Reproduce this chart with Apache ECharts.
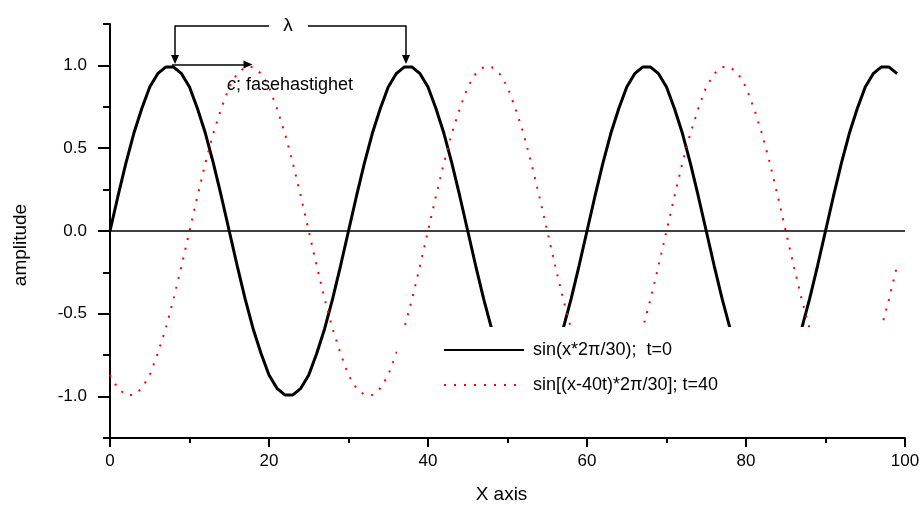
<!DOCTYPE html>
<html>
<head>
<meta charset="utf-8">
<script src="https://cdn.jsdelivr.net/npm/echarts@6/dist/echarts.min.js"></script>
<style>
  html, body { margin: 0; padding: 0; background: #fff; }
  #chart { width: 923px; height: 509px; }
</style>
</head>
<body>
<div id="chart"></div>
<script>
// sample positions along x (one point per unit)
const xs = [
  0, 1, 2, 3, 4, 5, 6, 7, 8, 9, 10, 11, 12, 13, 14, 15, 16, 17, 18, 19,
  20, 21, 22, 23, 24, 25, 26, 27, 28, 29, 30, 31, 32, 33, 34, 35, 36, 37, 38, 39,
  40, 41, 42, 43, 44, 45, 46, 47, 48, 49, 50, 51, 52, 53, 54, 55, 56, 57, 58, 59,
  60, 61, 62, 63, 64, 65, 66, 67, 68, 69, 70, 71, 72, 73, 74, 75, 76, 77, 78, 79,
  80, 81, 82, 83, 84, 85, 86, 87, 88, 89, 90, 91, 92, 93, 94, 95, 96, 97, 98, 99
];

// sin(x*2π/30); t=0  (solid black)
const waveT0 = [
  0, 0.21, 0.41, 0.59, 0.74, 0.87, 0.95, 0.99, 0.99, 0.95, 0.87, 0.74, 0.59, 0.41, 0.21,
  0, -0.21, -0.41, -0.59, -0.74, -0.87, -0.95, -0.99, -0.99, -0.95, -0.87, -0.74, -0.59, -0.41, -0.21,
  0, 0.21, 0.41, 0.59, 0.74, 0.87, 0.95, 0.99, 0.99, 0.95, 0.87, 0.74, 0.59, 0.41, 0.21,
  0, -0.21, -0.41, -0.59, -0.74, -0.87, -0.95, -0.99, -0.99, -0.95, -0.87, -0.74, -0.59, -0.41, -0.21,
  0, 0.21, 0.41, 0.59, 0.74, 0.87, 0.95, 0.99, 0.99, 0.95, 0.87, 0.74, 0.59, 0.41, 0.21,
  0, -0.21, -0.41, -0.59, -0.74, -0.87, -0.95, -0.99, -0.99, -0.95, -0.87, -0.74, -0.59, -0.41, -0.21,
  0, 0.21, 0.41, 0.59, 0.74, 0.87, 0.95, 0.99, 0.99, 0.95
];

// sin[(x-40t)*2π/30]; t=40  (red dotted)
const waveT40 = [
  -0.87, -0.95, -0.99, -0.99, -0.95, -0.87, -0.74, -0.59, -0.41, -0.21,
  0, 0.21, 0.41, 0.59, 0.74, 0.87, 0.95, 0.99, 0.99, 0.95, 0.87, 0.74, 0.59, 0.41, 0.21,
  0, -0.21, -0.41, -0.59, -0.74, -0.87, -0.95, -0.99, -0.99, -0.95, -0.87, -0.74, -0.59, -0.41, -0.21,
  0, 0.21, 0.41, 0.59, 0.74, 0.87, 0.95, 0.99, 0.99, 0.95, 0.87, 0.74, 0.59, 0.41, 0.21,
  0, -0.21, -0.41, -0.59, -0.74, -0.87, -0.95, -0.99, -0.99, -0.95, -0.87, -0.74, -0.59, -0.41, -0.21,
  0, 0.21, 0.41, 0.59, 0.74, 0.87, 0.95, 0.99, 0.99, 0.95, 0.87, 0.74, 0.59, 0.41, 0.21,
  0, -0.21, -0.41, -0.59, -0.74, -0.87, -0.95, -0.99, -0.99, -0.95, -0.87, -0.74, -0.59, -0.41, -0.21
];

const seriesNames = ["sin(x*2\u03C0/30);  t=0", "sin[(x-40t)*2\u03C0/30]; t=40"];
const yMajorTicks = [-1, -0.5, 0, 0.5, 1];
const yMinorTicks = [-1.25, -0.75, -0.25, 0.25, 0.75, 1.25];

const FONT = "'Liberation Sans', Arial, sans-serif";

const chart = echarts.init(document.getElementById("chart"));

const annotationLines = [
  // zero line
  [{ coord: [0, 0] }, { coord: [100, 0] }],
  // λ bracket
  [{ coord: [8.18, 1.241] }, { coord: [20.0, 1.241] }],
  [{ coord: [24.9, 1.241] }, { coord: [37.23, 1.241] }],
  [{ coord: [8.18, 1.241] }, { coord: [8.18, 1.035], symbol: "triangle", symbolSize: [8, 9] }],
  [{ coord: [37.23, 1.241] }, { coord: [37.23, 1.035], symbol: "triangle", symbolSize: [8, 9] }],
  // c arrow
  [{ coord: [7.8, 1.005] }, { coord: [17.36, 1.005], symbol: "triangle", symbolSize: [8, 9] }]
];

chart.setOption({
  animation: false,
  backgroundColor: "#fff",
  grid: { left: 110, right: 18, top: 24, bottom: 70 },
  legend: {
    orient: "vertical",
    left: 443,
    top: 341,
    padding: 0,
    itemWidth: 80,
    itemHeight: 18,
    itemGap: 17,
    z: 100,
    data: seriesNames,
    itemStyle: { opacity: 0 },
    textStyle: { fontSize: 18, color: "#000", fontFamily: FONT, padding: [0, 0, 0, 4] }
  },
  graphic: [
    {
      // white legend box hiding the curves behind it
      type: "rect",
      left: 397,
      top: 327,
      z: 50,
      shape: { width: 526, height: 90 },
      style: { fill: "#fff" }
    }
  ],
  xAxis: {
    type: "value",
    min: 0,
    max: 100,
    interval: 20,
    name: "X axis",
    nameLocation: "middle",
    nameGap: 47,
    nameTextStyle: { fontSize: 19, color: "#000", fontFamily: FONT, padding: [0, 12, 0, 0] },
    axisLine: { show: true, onZero: false, lineStyle: { color: "#000", width: 2 } },
    axisTick: { show: true, length: 9, lineStyle: { color: "#000", width: 2 } },
    minorTick: { show: true, splitNumber: 2, length: 5, lineStyle: { color: "#000", width: 2 } },
    axisLabel: { fontSize: 17, color: "#000", fontFamily: FONT, margin: 15 },
    splitLine: { show: false }
  },
  yAxis: [
    {
      type: "value",
      min: -1.25,
      max: 1.25,
      name: "amplitude",
      nameLocation: "middle",
      nameGap: 80,
      nameTextStyle: { fontSize: 19, color: "#000", fontFamily: FONT, padding: [0, 28, 0, 0] },
      axisLine: { show: true, onZero: false, lineStyle: { color: "#000", width: 2 } },
      axisTick: { show: true, length: 12, customValues: yMajorTicks, lineStyle: { color: "#000", width: 2 } },
      axisLabel: {
        customValues: yMajorTicks,
        formatter: (v) => v.toFixed(1),
        fontSize: 17,
        color: "#000",
        fontFamily: FONT,
        margin: 23
      },
      splitLine: { show: false }
    },
    {
      // minor ticks only
      type: "value",
      min: -1.25,
      max: 1.25,
      position: "left",
      axisLine: { show: false },
      axisTick: { show: true, length: 7, customValues: yMinorTicks, lineStyle: { color: "#000", width: 2 } },
      axisLabel: { show: false },
      splitLine: { show: false }
    }
  ],
  series: [
    {
      name: seriesNames[0],
      type: "line",
      data: xs.map((x, i) => [x, waveT0[i]]),
      showSymbol: false,
      symbol: "none",
      lineStyle: { color: "#000", width: 3 },
      itemStyle: { color: "#000" },
      markLine: {
        silent: true,
        animation: false,
        symbol: ["none", "none"],
        label: { show: false },
        lineStyle: { color: "#000", width: 1.5, type: "solid" },
        emphasis: { disabled: true },
        data: annotationLines
      },
      markPoint: {
        silent: true,
        animation: false,
        symbol: "circle",
        symbolSize: 1,
        itemStyle: { color: "rgba(0,0,0,0)" },
        data: [
          {
            coord: [22.4, 1.241],
            label: { show: true, position: "inside", formatter: "\u03BB", fontSize: 19, color: "#000", fontFamily: FONT }
          },
          {
            coord: [22.64, 0.88],
            label: {
              show: true,
              position: "inside",
              formatter: "{i|c}; fasehastighet",
              fontSize: 18,
              color: "#000",
              fontFamily: FONT,
              rich: {
                i: { fontStyle: "italic", fontSize: 18, color: "#000", fontFamily: FONT }
              }
            }
          }
        ]
      }
    },
    {
      name: seriesNames[1],
      type: "line",
      data: xs.map((x, i) => [x, waveT40[i]]),
      showSymbol: false,
      symbol: "none",
      lineStyle: { color: "#ff0000", width: 2, type: [2, 8], cap: "butt" },
      itemStyle: { color: "#ff0000" }
    }
  ]
});
</script>
</body>
</html>
